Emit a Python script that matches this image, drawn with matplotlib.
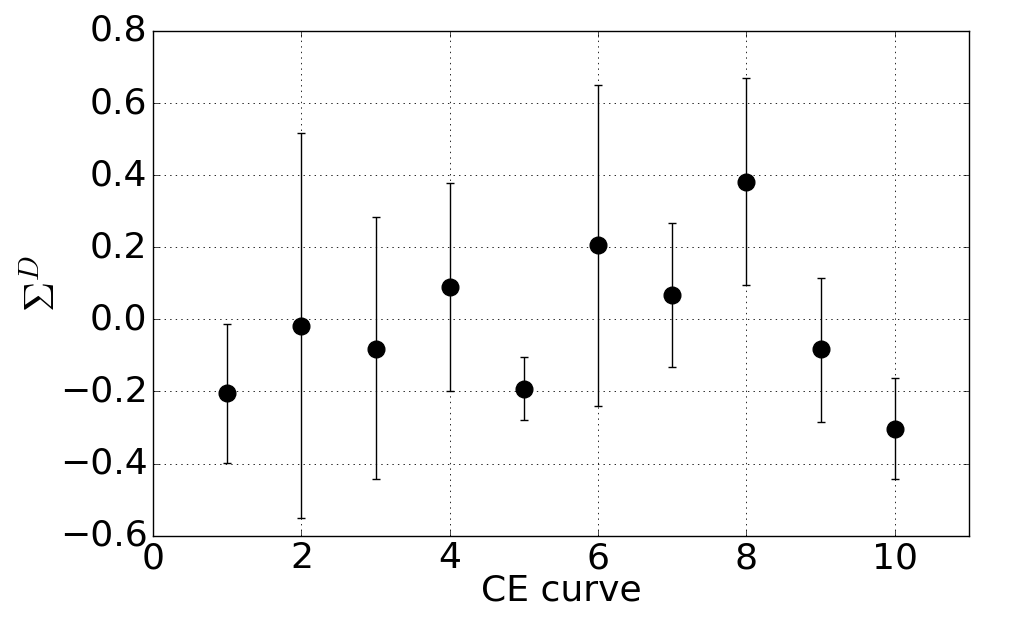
import numpy as np
import matplotlib
matplotlib.use("Agg")
import matplotlib.pyplot as plt

plt.style.use('classic')

# CE curve index and Sigma^D estimate with asymmetric error bounds
curve = [1, 2, 3, 4, 5, 6, 7, 8, 9, 10]
sigma_d = [-0.204, -0.019, -0.081, 0.090, -0.193, 0.206, 0.068, 0.382, -0.083, -0.304]
upper = [-0.012, 0.516, 0.285, 0.378, -0.104, 0.650, 0.266, 0.669, 0.116, -0.162]
lower = [-0.398, -0.551, -0.444, -0.199, -0.278, -0.241, -0.131, 0.096, -0.284, -0.444]

y = np.array(sigma_d)
yerr = [y - np.array(lower), np.array(upper) - y]

fig = plt.figure(figsize=(10.21, 6.31), dpi=100, facecolor='white')
ax = fig.add_axes([0.15, 0.151, 0.799, 0.8])

ax.errorbar(curve, y, yerr=yerr, fmt='o', color='black', ecolor='black',
            markersize=12, capsize=3, elinewidth=1, markeredgewidth=1)

ax.set_xlim(0, 11)
ax.set_ylim(-0.6, 0.8)
ax.set_xticks([0, 2, 4, 6, 8, 10])
ax.set_yticks(np.arange(-0.6, 0.81, 0.2))
ax.grid(True, linestyle=':', color='black', linewidth=0.6)
ax.tick_params(labelsize=26)

ax.set_xlabel('CE curve', fontsize=26, labelpad=-1)
ax.set_ylabel(r'$\Sigma^D$', fontsize=30, labelpad=-3)

fig.savefig('out.png', dpi=100, facecolor='white')
